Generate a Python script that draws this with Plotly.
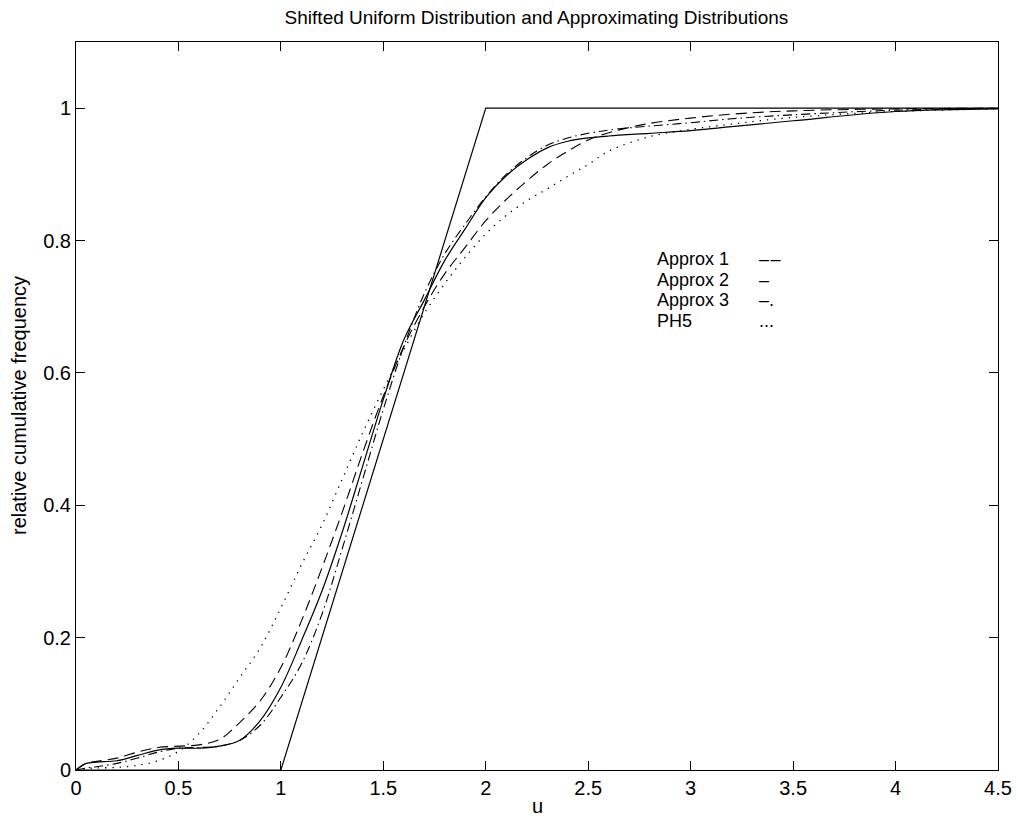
import plotly.graph_objects as go

u = [0, 0.05, 0.1, 0.2, 0.3, 0.4, 0.5, 0.6, 0.7, 0.8, 0.9, 1.0, 1.1, 1.2, 1.3, 1.4,
     1.5, 1.6, 1.7, 1.8, 1.9, 2.0, 2.1, 2.2, 2.3, 2.4, 2.5, 2.6, 2.8, 3.0, 3.2, 3.5,
     4.0, 4.5]

approx1 = [0, 0.010, 0.013, 0.018, 0.027, 0.034, 0.036, 0.038, 0.046, 0.072, 0.105,
           0.155, 0.225, 0.305, 0.39, 0.48, 0.565, 0.64, 0.70, 0.75, 0.79, 0.83,
           0.862, 0.89, 0.915, 0.935, 0.952, 0.963, 0.977, 0.985, 0.991, 0.996,
           0.999, 1.0]

approx2 = [0, 0.010, 0.012, 0.014, 0.022, 0.030, 0.033, 0.033, 0.036, 0.045, 0.075,
           0.125, 0.195, 0.27, 0.36, 0.46, 0.56, 0.65, 0.71, 0.77, 0.818, 0.865,
           0.898, 0.922, 0.940, 0.950, 0.955, 0.958, 0.962, 0.966, 0.972, 0.981,
           0.995, 0.999]

approx3 = [0, 0.003, 0.005, 0.010, 0.018, 0.027, 0.033, 0.034, 0.036, 0.045, 0.068,
           0.11, 0.16, 0.235, 0.335, 0.44, 0.545, 0.64, 0.72, 0.78, 0.825, 0.866,
           0.900, 0.925, 0.944, 0.955, 0.962, 0.967, 0.973, 0.978, 0.984, 0.990,
           0.997, 1.0]

ph5 = [0, 0.002, 0.003, 0.004, 0.007, 0.014, 0.028, 0.055, 0.095, 0.14, 0.185,
       0.245, 0.31, 0.37, 0.44, 0.51, 0.575, 0.635, 0.69, 0.735, 0.775, 0.81,
       0.838, 0.86, 0.878, 0.897, 0.915, 0.935, 0.957, 0.968, 0.976, 0.986,
       0.995, 0.999]

uni_u = [0, 1, 2, 4.5]
uni_f = [0, 0, 1, 1]

legend_names = ["Approx 1", "Approx 2", "Approx 3", "PH5"]
legend_marks = ["\u2013\u200a\u2013", "\u2013", "\u2013.", "..."]

FONT = "Liberation Sans, Arial, Helvetica, sans-serif"

fig = go.Figure()
fig.add_trace(go.Scatter(x=uni_u, y=uni_f, mode="lines",
                         line=dict(color="black", width=1.2)))
fig.add_trace(go.Scatter(x=u, y=approx1, mode="lines", line_shape="spline",
                         line=dict(color="black", width=1.1, dash="11px,6px")))
fig.add_trace(go.Scatter(x=u, y=approx2, mode="lines", line_shape="spline",
                         line=dict(color="black", width=1.2)))
fig.add_trace(go.Scatter(x=u, y=approx3, mode="lines", line_shape="spline",
                         line=dict(color="black", width=1.1, dash="9px,4px,1.5px,4px")))
fig.add_trace(go.Scatter(x=u, y=ph5, mode="lines", line_shape="spline",
                         line=dict(color="black", width=1.3, dash="1.3px,6px")))

# legend text block (plot area spans 728 px for 1.1 units)
row_step = 20.5 * 1.1 / 728
for i, (name, mark) in enumerate(zip(legend_names, legend_marks)):
    yv = 0.772 - i * row_step
    fig.add_annotation(x=2.83, y=yv, xref="x", yref="y", text=name, showarrow=False,
                       xanchor="left", yanchor="middle", borderpad=0,
                       font=dict(family=FONT, size=18, color="black"))
    fig.add_annotation(x=3.33, y=yv, xref="x", yref="y", text=mark, showarrow=False,
                       xanchor="left", yanchor="middle", borderpad=0,
                       font=dict(family=FONT, size=18, color="black"))

# axis titles
fig.add_annotation(x=0.5, y=(770 - 818) / 728, xref="paper", yref="paper", text="u",
                   showarrow=False, xanchor="center", yanchor="bottom", borderpad=0,
                   font=dict(family=FONT, size=20, color="black"))
fig.add_annotation(x=(19 - 76) / 922, y=0.5, xref="paper", yref="paper",
                   text="relative cumulative frequency", textangle=-90,
                   showarrow=False, xanchor="center", yanchor="middle",
                   font=dict(family=FONT, size=20, color="black"))

axis_common = dict(showline=True, linecolor="black", linewidth=1, mirror="ticks",
                   ticks="inside", ticklen=9, tickcolor="black", tickwidth=1,
                   showgrid=False, zeroline=False, automargin=False,
                   tickfont=dict(family=FONT, size=20, color="black"))

fig.update_layout(
    width=1018, height=819,
    margin=dict(l=76, r=20, t=42, b=49),
    paper_bgcolor="white", plot_bgcolor="white",
    showlegend=False,
    title=dict(text="Shifted Uniform Distribution and Approximating Distributions",
               x=0.527, xanchor="center", y=0.979, yanchor="middle",
               font=dict(family=FONT, size=19, color="black")),
    xaxis=dict(range=[0, 4.5], tickvals=[0, 0.5, 1, 1.5, 2, 2.5, 3, 3.5, 4, 4.5],
               ticktext=["0", "0.5", "1", "1.5", "2", "2.5", "3", "3.5", "4", "4.5"],
               **axis_common),
    yaxis=dict(range=[0, 1.1], tickvals=[0, 0.2, 0.4, 0.6, 0.8, 1],
               ticktext=["0", "0.2", "0.4", "0.6", "0.8", "1"],
               **axis_common),
)

fig.write_html("out.html")
